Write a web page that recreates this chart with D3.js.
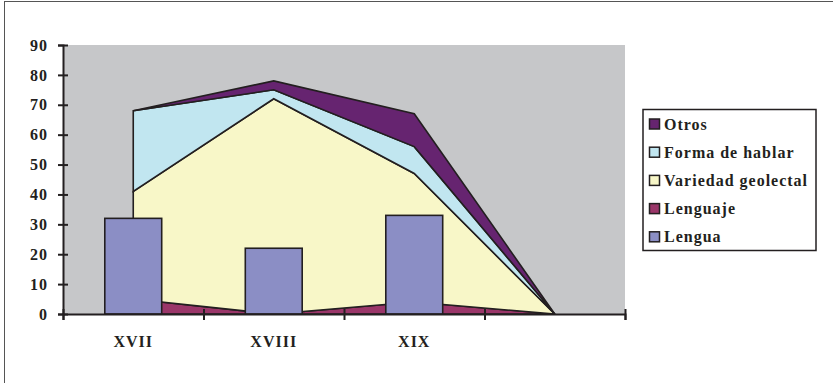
<!DOCTYPE html>
<html>
<head>
<meta charset="utf-8">
<script src="https://cdn.jsdelivr.net/npm/d3@7"></script>
<style>
  body { margin: 0; background: #fff; }
  svg { display: block; }
  .lbl { font-family: "Liberation Serif", "DejaVu Serif", serif; font-weight: bold; fill: #231f20; letter-spacing: 1px; }
</style>
</head>
<body>
<svg id="chart" width="833" height="383"></svg>
<script>
const categories = ["XVII", "XVIII", "XIX", ""];
const lengua = [32, 22, 33, null];
const lenguaje = [5, 0, 4, 0];
const variedad = [36, 72, 43, 0];
const forma = [27, 3, 9, 0];
const otros = [0, 3, 11, 0];
const yTicks = [0, 10, 20, 30, 40, 50, 60, 70, 80, 90];

const areaKeys = ["Lenguaje", "Variedad geolectal", "Forma de hablar", "Otros"];
const colors = {
  "Otros": "#662470",
  "Forma de hablar": "#c1e6f0",
  "Variedad geolectal": "#f8f7c8",
  "Lenguaje": "#9a3669",
  "Lengua": "#8b8ec5"
};
const legendOrder = ["Otros", "Forma de hablar", "Variedad geolectal", "Lenguaje", "Lengua"];
const ink = "#231f20";

const rows = categories.map((c, i) => ({
  cat: c,
  "Lenguaje": lenguaje[i],
  "Variedad geolectal": variedad[i],
  "Forma de hablar": forma[i],
  "Otros": otros[i]
}));

const svg = d3.select("#chart");
const plot = { left: 63, right: 625, top: 45, bottom: 314 };

// outer frame (only left/top edges fall inside the picture)
svg.append("rect")
  .attr("x", 4.5).attr("y", 1.5)
  .attr("width", 900).attr("height", 500)
  .attr("fill", "#fff")
  .attr("stroke", "#555").attr("stroke-width", 1);

svg.append("rect")
  .attr("x", plot.left).attr("y", plot.top)
  .attr("width", plot.right - plot.left).attr("height", plot.bottom - plot.top)
  .attr("fill", "#c6c7c9");

const x = d3.scaleBand()
  .domain(categories)
  .range([plot.left, plot.right])
  .paddingInner(0).paddingOuter(0);

const y = d3.scaleLinear()
  .domain([0, 90])
  .range([plot.bottom, plot.top]);

const cx = (c) => x(c) + x.bandwidth() / 2;

const stack = d3.stack().keys(areaKeys);
const series = stack(rows);

const area = d3.area()
  .x((d) => cx(d.data.cat))
  .y0((d) => y(d[0]))
  .y1((d) => y(d[1]));

svg.append("g")
  .selectAll("path")
  .data(series)
  .join("path")
  .attr("d", area)
  .attr("fill", (d) => colors[d.key])
  .attr("stroke", ink)
  .attr("stroke-width", 1.6)
  .attr("stroke-linejoin", "miter");

// Lengua bars on top
const barW = x.bandwidth() * 0.405;
svg.append("g")
  .selectAll("rect")
  .data(categories.map((c, i) => ({ cat: c, v: lengua[i] })).filter((d) => d.v != null))
  .join("rect")
  .attr("x", (d) => cx(d.cat) - barW / 2)
  .attr("y", (d) => y(d.v))
  .attr("width", barW)
  .attr("height", (d) => y(0) - y(d.v))
  .attr("fill", colors["Lengua"])
  .attr("stroke", ink)
  .attr("stroke-width", 1.6);

// y axis
const yAxis = svg.append("g")
  .attr("transform", `translate(${plot.left},0)`)
  .call(d3.axisLeft(y).tickValues(yTicks).tickSize(5).tickPadding(10));
yAxis.select(".domain").attr("stroke", ink).attr("stroke-width", 2);
yAxis.selectAll(".tick line").attr("x1", 5).attr("stroke", ink).attr("stroke-width", 2);
yAxis.selectAll(".tick text")
  .attr("class", "lbl")
  .style("font-size", "16px");

// x axis: ticks on category boundaries
const xb = d3.scaleLinear().domain([0, categories.length]).range([plot.left, plot.right]);
const xAxis = svg.append("g")
  .attr("transform", `translate(0,${plot.bottom})`)
  .call(d3.axisBottom(xb).tickValues(d3.range(categories.length + 1)).tickSize(6).tickFormat(""));
xAxis.select(".domain").attr("stroke", ink).attr("stroke-width", 2);
xAxis.selectAll(".tick line").attr("y1", -5).attr("stroke", ink).attr("stroke-width", 2);

svg.append("g")
  .selectAll("text")
  .data(categories)
  .join("text")
  .attr("class", "lbl")
  .attr("x", (d) => cx(d))
  .attr("y", 347)
  .attr("text-anchor", "middle")
  .style("font-size", "16px")
  .text((d) => d);

// legend
const lg = svg.append("g");
lg.append("rect")
  .attr("x", 643).attr("y", 109.5)
  .attr("width", 173).attr("height", 141)
  .attr("fill", "#fff")
  .attr("stroke", ink).attr("stroke-width", 1.5);

const items = lg.selectAll("g.item")
  .data(legendOrder)
  .join("g")
  .attr("class", "item")
  .attr("transform", (d, i) => `translate(649,${124 + i * 28.2})`);

items.append("rect")
  .attr("x", 0.5).attr("y", -5)
  .attr("width", 10).attr("height", 10)
  .attr("fill", (d) => colors[d])
  .attr("stroke", ink).attr("stroke-width", 1.5);

items.append("text")
  .attr("class", "lbl")
  .attr("x", 15)
  .attr("y", 5.5)
  .style("font-size", "16px")
  .text((d) => d);
</script>
</body>
</html>
